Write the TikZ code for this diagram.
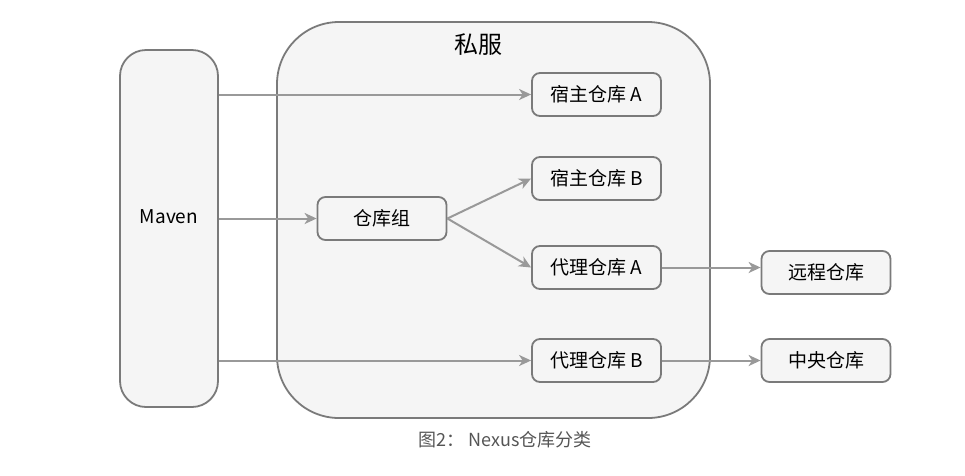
\documentclass[tikz,border=0pt]{standalone}
\usepackage{fontspec}
\setmainfont{Noto Sans CJK SC}
\usetikzlibrary{positioning,arrows.meta}
\definecolor{boxline}{HTML}{7A7A7A}
\definecolor{boxfill}{HTML}{F5F5F5}
\definecolor{arrowline}{HTML}{999999}
\definecolor{captext}{HTML}{555555}

\begin{document}
\begin{tikzpicture}[
x=1pt,y=-1pt,
repo/.style={
  draw=boxline,
  fill=boxfill,
  line width=1.8pt,
  rounded corners=8pt,
  minimum width=129pt,
  minimum height=43pt,
  font=\fontsize{19}{21}\selectfont
  },
frame/.style={
  draw=boxline,
  fill=boxfill,
  line width=1.8pt
  },
link/.style={
  draw=arrowline,
  line width=2pt,
  ->
  },
>={Stealth[length=12pt,width=11pt,inset=3.5pt]}
]
\useasboundingbox (0,0) rectangle (965,475);
\node[frame,rounded corners=26pt,minimum width=98pt,minimum height=357pt] (maven) at (169,228.5) {};
\node[font=\fontsize{19}{21}\selectfont] (mavenlabel) at (169,217) {Maven};
\node[frame,rounded corners=62pt,minimum width=433pt,minimum height=396pt] (sifu) at (493.5,220) {};
\node[font=\fontsize{24}{26}\selectfont] (sifulabel) at (478,45) {私服};

\node[repo] (hostA) at (596.5,94.5) {宿主仓库 A};
\node[repo] (hostB) at (596.5,178.5) {宿主仓库 B};
\node[repo] (group) at (382,218.5) {仓库组};
\node[repo] (proxyA) at (596.5,267.5) {代理仓库 A};
\node[repo] (proxyB) at (596.5,360.5) {代理仓库 B};
\node[repo] (remote) at (826,272.5) {远程仓库};
\node[repo] (central) at (826,360.5) {中央仓库};

\node[text=captext,font=\fontsize{18}{20}\selectfont] (caption) at (505,440) {图2： Nexus仓库分类};

\foreach \target in {hostA,group,proxyB}
  \draw[link] (maven.east |- \target.west) -- (\target.west);
\foreach \target in {hostB,proxyA}
  \draw[link] (group.east) -- (\target.west);
\draw[link] (proxyA.east) -- (proxyA.east -| remote.west);
\draw[link] (proxyB.east) -- (central.west);

\end{tikzpicture}
\end{document}
